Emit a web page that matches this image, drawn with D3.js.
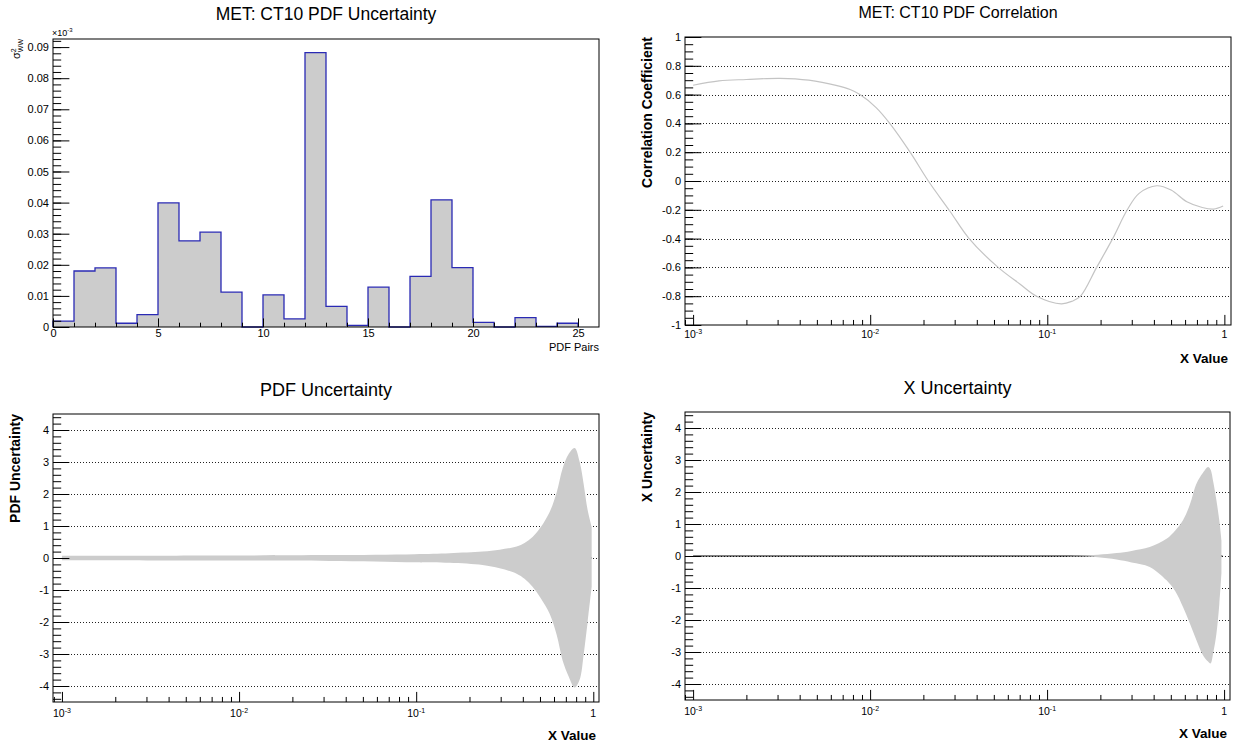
<!DOCTYPE html>
<html>
<head>
<meta charset="utf-8">
<script src="https://cdn.jsdelivr.net/npm/d3@7"></script>
<style>
  body { margin: 0; background: #fff; }
  text { font-family: "Liberation Sans", Arial, Helvetica, sans-serif; }
</style>
</head>
<body>
<div class="container"></div>
<script>
// ---- DATA ----
// top left: PDF pair histogram (one bin per pair, width 1)
const pairBins = [0, 1, 2, 3, 4, 5, 6, 7, 8, 9, 10, 11, 12, 13, 14, 15, 16, 17, 18, 19, 20, 21, 22, 23, 24];
const pairValues = [0.0019, 0.0180, 0.0190, 0.0012, 0.0040, 0.0399, 0.0277, 0.0305, 0.0112, 0,
    0.0103, 0.0026, 0.0882, 0.0066, 0.0005, 0.0128, 0, 0.0163, 0.0409, 0.0191,
    0.0015, 0, 0.0030, 0.0002, 0.0012];
const pairTicks = [0, 5, 10, 15, 20, 25];
const sigmaTicks = [0, 0.01, 0.02, 0.03, 0.04, 0.05, 0.06, 0.07, 0.08, 0.09];

// top right: correlation coefficient vs x
const corrX = [0.001, 0.0014, 0.002, 0.0031, 0.0045, 0.0065, 0.0077, 0.00875, 0.0108, 0.0129, 0.0168, 0.0213,
    0.0282, 0.0362, 0.0528, 0.07, 0.087, 0.12, 0.138, 0.154, 0.19, 0.234, 0.283, 0.33, 0.415,
    0.5, 0.614, 0.75, 0.87, 0.984];
const corrY = [0.665, 0.695, 0.705, 0.713, 0.70, 0.662, 0.635, 0.60, 0.51, 0.40, 0.20, 0.0,
    -0.21, -0.40, -0.60, -0.715, -0.80, -0.853, -0.835, -0.80, -0.60, -0.40, -0.20, -0.086, -0.033,
    -0.063, -0.144, -0.184, -0.195, -0.174];
const corrTicks = [-1, -0.8, -0.6, -0.4, -0.2, 0, 0.2, 0.4, 0.6, 0.8, 1];

// log x axis shared by three panels
const decadeTicks = [0.001, 0.01, 0.1, 1];
const decadeLabels = [["10", "-3"], ["10", "-2"], ["10", "-1"], ["1", ""]];

// bottom left: PDF uncertainty band
const pdfX = [0.001, 0.01, 0.0325, 0.098, 0.1545, 0.237, 0.296, 0.369, 0.409, 0.454, 0.504, 0.567,
    0.621, 0.671, 0.726, 0.785, 0.838, 0.883, 0.929, 0.979];
const pdfUpper = [0.07, 0.08, 0.09, 0.12, 0.15, 0.2, 0.26, 0.36, 0.47, 0.66, 0.96, 1.44,
    2.05, 2.8, 3.25, 3.44, 3.0, 2.3, 1.5, 0.97];
const pdfLower = [-0.07, -0.08, -0.09, -0.13, -0.15, -0.22, -0.32, -0.49, -0.65, -0.9, -1.25, -1.74,
    -2.4, -3.2, -3.7, -4.05, -3.8, -3.0, -2.0, -0.9];

// bottom right: X uncertainty band
const xUncX = [0.1, 0.15, 0.194, 0.247, 0.3, 0.38, 0.473, 0.53, 0.586, 0.64, 0.698, 0.76, 0.812,
    0.838, 0.87, 0.905, 0.94, 0.966];
const xUncUpper = [0, 0.01, 0.04, 0.09, 0.16, 0.28, 0.54, 0.8, 1.12, 1.6, 2.26, 2.6, 2.78,
    2.7, 2.3, 1.74, 1.1, 0.49];
const xUncLower = [0, -0.01, -0.04, -0.11, -0.2, -0.34, -0.76, -1.1, -1.59, -2.1, -2.63, -3.1, -3.3,
    -3.36, -3.0, -2.43, -1.5, -0.54];
const zeroLineX = [0.001, 0.98];
const uncTicks = [-4, -3, -2, -1, 0, 1, 2, 3, 4];

// ---- LAYOUT ----
const svg = d3.select(".container")
    .append("svg")
    .attr("width", 1238)
    .attr("height", 742);

const fontFamily = '"Liberation Sans", Arial, Helvetica, sans-serif';
// ROOT prints a plain hyphen for negative numbers
const plain = d => String(+d.toFixed(2));

function makePanel(x0, y0, x1, y1, id) {
    const g = svg.append("g").attr("transform", `translate(${x0}, ${y0})`);
    const w = x1 - x0, h = y1 - y0;
    g.append("clipPath").attr("id", id).append("rect").attr("width", w).attr("height", h);
    return { g, w, h, clip: `url(#${id})` };
}

function frame(p) {
    p.g.append("rect")
        .attr("width", p.w)
        .attr("height", p.h)
        .attr("fill", "none")
        .attr("stroke", "#000")
        .attr("stroke-width", 1);
}

function grid(p, y, values) {
    p.g.append("g")
        .selectAll("line")
        .data(values.filter(v => y(v) > 1 && y(v) < p.h - 1))
        .enter()
        .append("line")
        .attr("x1", 0)
        .attr("x2", p.w)
        .attr("y1", d => Math.round(y(d)) + 0.5)
        .attr("y2", d => Math.round(y(d)) + 0.5)
        .attr("stroke", "#222")
        .attr("stroke-width", 1)
        .attr("stroke-dasharray", "1,2");
}

function styleLabels(a, size) {
    a.select(".domain").remove();
    a.selectAll("text").style("font-size", size + "px").style("font-family", fontFamily).attr("fill", "#000");
}

function yAxis(p, y, majors, minorStep, fmt) {
    const [lo, hi] = y.domain();
    const minors = d3.range(Math.ceil(lo / minorStep - 1e-6) * minorStep, hi + 1e-9, minorStep);
    const majLen = p.w * 0.03;
    p.g.append("g")
        .call(d3.axisLeft(y).tickValues(minors).tickSize(-majLen / 2).tickFormat(""))
        .call(a => a.select(".domain").remove());
    p.g.append("g")
        .call(d3.axisLeft(y).tickValues(majors).tickSize(-majLen).tickPadding(4).tickFormat(fmt))
        .call(a => styleLabels(a, 11));
}

function logXAxis(p, x, labelOffset) {
    const isDecade = v => decadeTicks.some(d => Math.abs(v / d - 1) < 1e-6);
    const majLen = p.h * 0.035;
    const axis = p.g.append("g").attr("transform", `translate(0, ${p.h})`);
    axis.append("g")
        .call(d3.axisBottom(x).tickValues(x.ticks().filter(v => !isDecade(v))).tickSize(-majLen / 2).tickFormat(""))
        .call(a => a.select(".domain").remove());
    axis.append("g")
        .call(d3.axisBottom(x).tickValues(decadeTicks).tickSize(-majLen).tickFormat(""))
        .call(a => a.select(".domain").remove());
    const lbl = axis.selectAll("text.dec")
        .data(decadeTicks)
        .enter()
        .append("text")
        .attr("class", "dec")
        .attr("x", d => x(d))
        .attr("y", labelOffset)
        .attr("text-anchor", "middle")
        .style("font-size", "10.5px");
    lbl.append("tspan").text((d, i) => decadeLabels[i][0]);
    lbl.append("tspan")
        .attr("dy", -4)
        .style("font-size", "7px")
        .text((d, i) => decadeLabels[i][1]);
}

function title(p, text, size, dy) {
    return p.g.append("text")
        .attr("x", p.w / 2)
        .attr("y", dy)
        .attr("text-anchor", "middle")
        .style("font-size", size + "px")
        .text(text);
}

function yTitle(p, text, dx) {
    return p.g.append("text")
        .attr("transform", `translate(${dx}, 0) rotate(-90)`)
        .attr("text-anchor", "end")
        .style("font-size", "14px")
        .style("font-weight", "bold")
        .text(text);
}

function xTitle(p, text, dy) {
    return p.g.append("text")
        .attr("x", p.w - 3)
        .attr("y", p.h + dy)
        .attr("text-anchor", "end")
        .style("font-size", "13.5px")
        .style("font-weight", "bold")
        .text(text);
}

// ---- TOP LEFT: histogram ----
const tl = makePanel(53, 39, 599, 327, "clipTL");
const tlX = d3.scaleLinear().domain([0, 26]).range([0, tl.w]);
const tlY = d3.scaleLinear().domain([0, 0.0926]).range([tl.h, 0]);

const histData = pairBins.map((b, i) => ({ x: b, v: pairValues[i] }));
const lastBin = histData[histData.length - 1];
const histSteps = histData.concat([{ x: lastBin.x + 1, v: lastBin.v }]);

tl.g.append("path")
    .datum(histSteps)
    .attr("fill", "#cccccc")
    .attr("d", d3.area().curve(d3.curveStepAfter).x(d => tlX(d.x)).y0(tlY(0)).y1(d => tlY(d.v)));

tl.g.append("path")
    .datum([{ x: histData[0].x, v: 0 }].concat(histSteps, [{ x: lastBin.x + 1, v: 0 }]))
    .attr("fill", "none")
    .attr("stroke", "#2a2ab4")
    .attr("stroke-width", 1.3)
    .attr("d", d3.line().curve(d3.curveStepAfter).x(d => tlX(d.x)).y(d => tlY(d.v)));

frame(tl);
yAxis(tl, tlY, sigmaTicks, 0.002, d => d === 0 ? "0" : d3.format(".2f")(d));

const tlXAxis = tl.g.append("g").attr("transform", `translate(0, ${tl.h})`);
tlXAxis.append("g")
    .call(d3.axisBottom(tlX).tickValues(pairBins.concat([25]).filter(v => v % 5)).tickSize(-4.3).tickFormat(""))
    .call(a => a.select(".domain").remove());
tlXAxis.append("g")
    .call(d3.axisBottom(tlX).tickValues(pairTicks).tickSize(-8.6).tickPadding(2).tickFormat(d3.format("d")))
    .call(a => styleLabels(a, 11));

title(tl, "MET: CT10 PDF Uncertainty", 17.5, -19);
xTitle(tl, "PDF Pairs", 24).style("font-weight", "normal").style("font-size", "11px").attr("x", tl.w);

// y title sigma^2_WW and exponent
const sig = tl.g.append("text")
    .attr("transform", "translate(-33, 0) rotate(-90)")
    .attr("text-anchor", "end")
    .style("font-size", "11px");
sig.append("tspan").text("σ");
sig.append("tspan").attr("dy", -4).style("font-size", "7px").text("2");
sig.append("tspan").attr("dx", -4).attr("dy", 7).style("font-size", "7px").text("WW");

const expo = tl.g.append("text")
    .attr("x", -1)
    .attr("y", -3)
    .style("font-size", "9px");
expo.append("tspan").text("×10");
expo.append("tspan").attr("dy", -4).style("font-size", "6px").text("-3");

// ---- TOP RIGHT: correlation ----
const tr = makePanel(685, 37, 1231, 325, "clipTR");
const trX = d3.scaleLog().domain([0.0009, 1.09]).range([0, tr.w]);
const trY = d3.scaleLinear().domain([-1, 1]).range([tr.h, 0]);

grid(tr, trY, corrTicks);
tr.g.append("path")
    .datum(corrX.map((v, i) => [v, corrY[i]]))
    .attr("clip-path", tr.clip)
    .attr("fill", "none")
    .attr("stroke", "#c4c4c4")
    .attr("stroke-width", 1.2)
    .attr("d", d3.line().curve(d3.curveCatmullRom.alpha(0.5)).x(d => trX(d[0])).y(d => trY(d[1])));
frame(tr);
yAxis(tr, trY, corrTicks, 0.05, plain);
logXAxis(tr, trX, 13);
title(tr, "MET: CT10 PDF Correlation", 16, -19);
yTitle(tr, "Correlation Coefficient", -33);
xTitle(tr, "X Value", 38);

// ---- BOTTOM PANELS: uncertainty bands ----
function bandPanel(p, x, y, xs, up, low, label, titleText) {
    grid(p, y, uncTicks);
    p.g.append("path")
        .datum(zeroLineX)
        .attr("clip-path", p.clip)
        .attr("fill", "none")
        .attr("stroke", "#000")
        .attr("stroke-width", 1)
        .attr("d", d3.line().x(d => x(d)).y(() => y(0)));
    p.g.append("path")
        .datum(xs.map((v, i) => [v, up[i], low[i]]))
        .attr("clip-path", p.clip)
        .attr("fill", "#cccccc")
        .attr("d", d3.area().curve(d3.curveCatmullRom.alpha(0.5)).x(d => x(d[0])).y0(d => y(d[2])).y1(d => y(d[1])));
    frame(p);
    yAxis(p, y, uncTicks, 0.2, plain);
    logXAxis(p, x, 14.5);
    title(p, titleText, 18, -18);
    yTitle(p, label, -33);
    xTitle(p, "X Value", 38);
}

const bl = makePanel(53, 414, 599, 702, "clipBL");
bandPanel(bl,
    d3.scaleLog().domain([0.00089, 1.077]).range([0, bl.w]),
    d3.scaleLinear().domain([-4.5, 4.5]).range([bl.h, 0]),
    pdfX, pdfUpper, pdfLower, "PDF Uncertainty", "PDF Uncertainty");

const br = makePanel(685, 412, 1230, 700, "clipBR");
bandPanel(br,
    d3.scaleLog().domain([0.0009, 1.08]).range([0, br.w]),
    d3.scaleLinear().domain([-4.5, 4.5]).range([br.h, 0]),
    xUncX, xUncUpper, xUncLower, "X Uncertainty", "X Uncertainty");
</script>
</body>
</html>
